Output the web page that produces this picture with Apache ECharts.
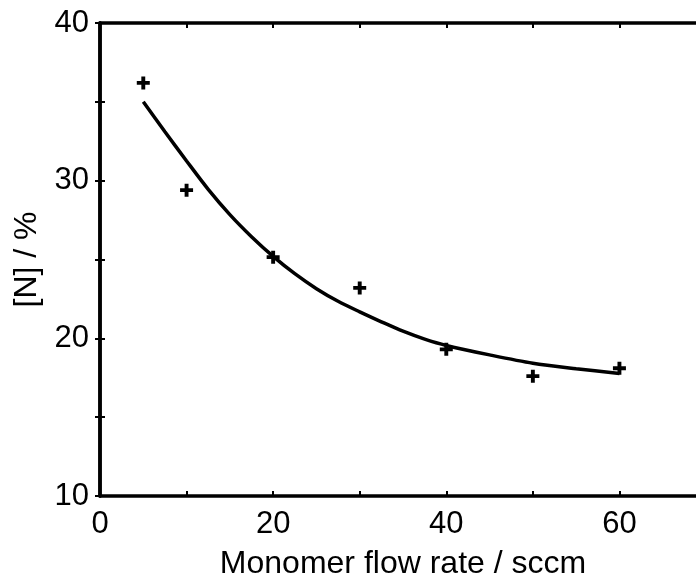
<!DOCTYPE html>
<html>
<head>
<meta charset="utf-8">
<script src="https://cdn.jsdelivr.net/npm/echarts@6/dist/echarts.min.js"></script>
<style>html,body{margin:0;padding:0;background:#fff}#c{width:696px;height:576px}</style>
</head>
<body>
<div id="c"></div>
<script>
// Measured data points (crosses)
const flowRate = [5, 10, 20, 30, 40, 50, 60];
const nitrogen = [36.2, 29.4, 25.15, 23.2, 19.3, 17.6, 18.1];
// Fitted curve
const curveX = [5, 7.5, 10, 12.5, 15, 17.5, 20, 22.5, 25, 27.5, 30, 32.5, 35, 37.5, 40, 45, 50, 55, 60];
const curveY = [35.0, 33.1, 31.25, 29.45, 27.85, 26.45, 25.2, 24.1, 23.15, 22.35, 21.68, 21.05, 20.45, 19.95, 19.55, 18.95, 18.42, 18.07, 17.77];
const xTickLabels = ['0', '20', '40', '60'];
const yTickLabels = ['10', '20', '30', '40'];

const font = 'Liberation Sans, Arial, sans-serif';
const plus = 'path://M3.5,0h3v3.5h3.5v3h-3.5v3.5h-3v-3.5h-3.5v-3h3.5z';

const chart = echarts.init(document.getElementById('c'));
const axisLine = { show: true, lineStyle: { color: '#000', width: 3.5 } };
const tick = { show: true, inside: true, length: 5, lineStyle: { color: '#000', width: 2 } };
chart.setOption({
  animation: false,
  backgroundColor: '#fff',
  grid: { left: 100, top: 23, width: 606, bottom: 80, containLabel: false, outerBoundsMode: 'none' },
  xAxis: [{
    type: 'value', min: 0, max: 70, interval: 10, position: 'bottom',
    name: 'Monomer flow rate / sccm', nameLocation: 'middle', nameGap: 52,
    nameTextStyle: { fontFamily: font, fontSize: 32, color: '#000' },
    axisLine, axisTick: tick, splitLine: { show: false },
    axisLabel: { margin: 13, fontFamily: font, fontSize: 31, color: '#000',
      formatter: v => xTickLabels.includes(String(v)) ? String(v) : '' }
  }, {
    type: 'value', min: 0, max: 70, interval: 10, position: 'top',
    axisLine, axisTick: tick, axisLabel: { show: false }, splitLine: { show: false }
  }],
  yAxis: [{
    type: 'value', min: 10, max: 40, interval: 5, position: 'left',
    name: '[N] / %', nameLocation: 'middle', nameGap: 56, nameRotate: 90,
    nameTextStyle: { fontFamily: font, fontSize: 32, color: '#000' },
    axisLine, axisTick: tick, splitLine: { show: false },
    axisLabel: { margin: 11, fontFamily: font, fontSize: 31, color: '#000',
      formatter: v => yTickLabels.includes(String(v)) ? String(v) : '' }
  }, {
    type: 'value', min: 10, max: 40, interval: 5, position: 'right',
    axisLine, axisTick: tick, axisLabel: { show: false }, splitLine: { show: false }
  }],
  series: [{
    type: 'line',
    data: curveX.map((x, i) => [x, curveY[i]]),
    smooth: 0.3, showSymbol: false,
    lineStyle: { color: '#000', width: 3.5 }
  }, {
    type: 'scatter',
    data: flowRate.map((x, i) => [x, nitrogen[i]]),
    symbol: plus, symbolSize: 13,
    itemStyle: { color: '#000', opacity: 1 }
  }]
});
</script>
</body>
</html>
